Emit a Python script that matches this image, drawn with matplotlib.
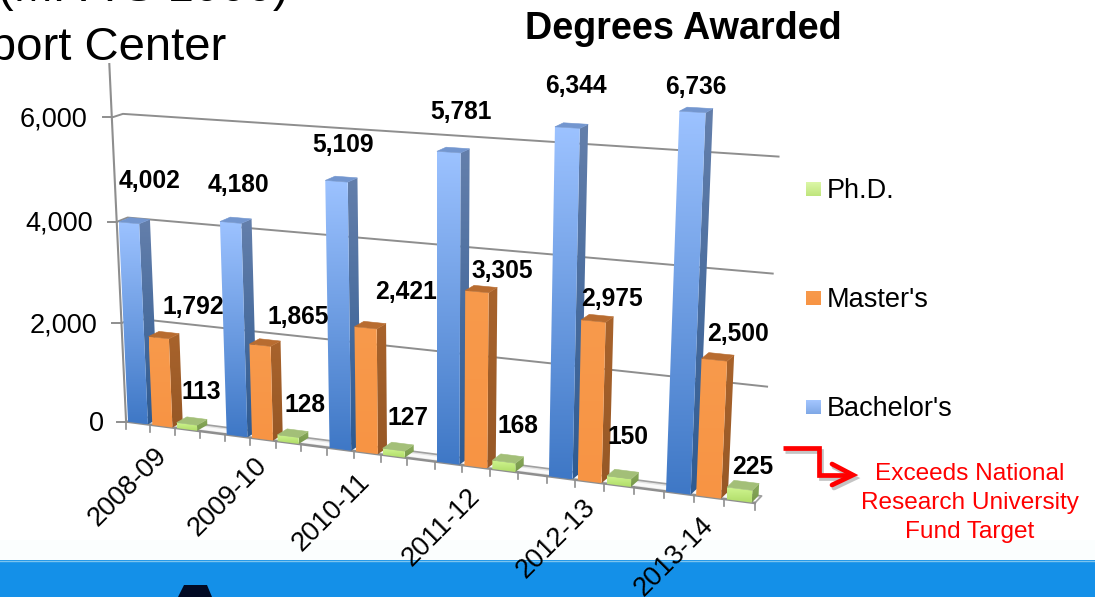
"""
Degrees awarded, slide crop with a hand-projected 3D column chart.
"""

import matplotlib

matplotlib.use("Agg")
import matplotlib.pyplot as plt
import numpy as np
from matplotlib.colors import to_rgb
from matplotlib.patches import Polygon, Rectangle

plt.rcParams["font.family"] = ["Liberation Sans", "DejaVu Sans"]

categories = ["2008-09", "2009-10", "2010-11", "2011-12", "2012-13", "2013-14"]
bachelors = [4002, 4180, 5109, 5781, 6344, 6736]
masters = [1792, 1865, 2421, 3305, 2975, 2500]
phds = [113, 128, 127, 168, 150, 225]
y_ticks = [0, 2000, 4000, 6000]

bachelor_label_xy = [(150, 181), (238, 185), (343, 145), (461, 112), (576, 86), (696, 87)]
master_label_xy = [(193, 307), (298, 317), (406, 292), (502, 271), (612, 299), (738, 334)]
phd_label_xy = [(201, 392), (305, 405), (408, 418), (518, 426), (628, 437), (753, 467)]
tick_label_xy = [(128, 487), (228, 497), (331, 512), (441, 527), (556, 539), (674, 557)]

# (slot, value, depth) -> pixel pairs measured on the chart frame.
# One category takes 4 slots: three bars and a gap.
frame_points = [
    ((0, 0, 0), (126, 421)), ((0, 4000, 0), (118, 221)), ((0, 6000, 0), (112, 117)),
    ((0, 0, 1), (137, 417)), ((0, 4000, 1), (128, 217)), ((0, 6000, 1), (122, 114)),
    ((23, 0, 0), (755, 503)), ((23, 0, 1), (762, 495)), ((23, 2000, 1), (767, 387)),
    ((23, 4000, 1), (773, 273)), ((23, 6000, 1), (778, 157)),
    ((4, 0, 0), (224, 434)), ((8, 0, 0), (327, 447)), ((12, 0, 0), (435, 462)),
    ((16, 0, 0), (547, 477)), ((20, 0, 0), (663, 491)),
    ((20, 6736, 0), (677, 111)), ((16, 6344, 0), (553, 126)),
    ((8, 5109, 0), (323, 182)), ((4, 4180, 0), (217, 222)),
]


def fit_camera(points):
    rows = []
    for (x, v, z), (u, w) in points:
        v = v / 1000
        rows.append([x, v, z, 1, 0, 0, 0, 0, -u * x, -u * v, -u * z, -u])
        rows.append([0, 0, 0, 0, x, v, z, 1, -w * x, -w * v, -w * z, -w])
    _, _, vt = np.linalg.svd(np.array(rows, dtype=float))
    return vt[-1].reshape(3, 4)


camera = fit_camera(frame_points)


def project(x, v, z=0):
    p = camera @ np.array([x, v / 1000, z, 1.0])
    return p[0] / p[2], p[1] / p[2]


def gradient_face(ax, pts, top, bottom, zorder):
    # vertical gradient image clipped to the face outline
    xs, ys = zip(*pts)
    shades = np.linspace(0, 1, 64)[:, None, None]
    img = (1 - shades) * np.array(to_rgb(top)) + shades * np.array(to_rgb(bottom))
    im = ax.imshow(img, extent=(min(xs), max(xs), max(ys), min(ys)), aspect="auto",
                   zorder=zorder, interpolation="bilinear")
    outline = Polygon(pts, closed=True, transform=ax.transData, fc="none", ec="none")
    ax.add_patch(outline)
    im.set_clip_path(outline)


def draw_bar(ax, slot, value, style, zorder):
    x0, x1 = slot + 0.08, slot + 0.9
    back = 1.0
    front = [project(x0, value), project(x1, value), project(x1, 0), project(x0, 0)]
    side = [project(x1, value), project(x1, value, back), project(x1, 0, back), project(x1, 0)]
    top = [project(x0, value), project(x1, value), project(x1, value, back), project(x0, value, back)]
    gradient_face(ax, side, style["side_top"], style["side_bottom"], zorder)
    gradient_face(ax, front, style["front_top"], style["front_bottom"], zorder + 0.1)
    ax.add_patch(Polygon(top, closed=True, fc=style["top"], ec=style["top"], lw=0.4, zorder=zorder + 0.2))


blue = dict(front_top="#9cc2ff", front_bottom="#3f78c6", side_top="#647fab", side_bottom="#2f5b92", top="#7396cf")
orange = dict(front_top="#f89a4c", front_bottom="#f79444", side_top="#a8632c", side_bottom="#975826", top="#b86c30")
green = dict(front_top="#cff590", front_bottom="#b0dc68", side_top="#8aaa5c", side_bottom="#76984a", top="#a3bf78")

fig = plt.figure(figsize=(10.95, 5.97), dpi=100)
ax = fig.add_axes([0, 0, 1, 1])
ax.axis("off")

grid_color = "#8e8e8e"

# wall and gridlines
for tick in y_ticks[1:]:
    xs, ys = zip(project(0, tick), project(0, tick, 1), project(23, tick, 1))
    ax.plot(xs, ys, color=grid_color, lw=1.4, zorder=1)
for tick in y_ticks:
    x, y = project(0, tick)
    ax.plot([x - 9, x], [y, y], color=grid_color, lw=1.4, zorder=1)
    ax.text(x - 24 if tick else 104, y + 2, f"{tick:,}", fontsize=19.5, ha="right", va="center", color="black")

xs, ys = zip(project(0, 7000), project(0, 0))
ax.plot(xs, ys, color=grid_color, lw=1.5, zorder=1)

# floor
floor = [project(0, 0), project(23, 0), project(23, 0, 1), project(0, 0, 1)]
ax.add_patch(Polygon(floor, closed=True, fc="#e4e4e4", ec="none", zorder=1))
inner = [project(0, 0, 0.25), project(23, 0, 0.25), project(23, 0, 0.7), project(0, 0, 0.7)]
ax.add_patch(Polygon(inner, closed=True, fc="#fafafa", ec="none", zorder=1.1))
xs, ys = zip(project(0, 0, 1), project(23, 0, 1), project(23, 0))
ax.plot(xs, ys, color="#a0a0a0", lw=1.2, zorder=1.2)
xs, ys = zip(project(0, 0), project(23, 0))
ax.plot(xs, ys, color=grid_color, lw=1.8, zorder=1.3)
for slot in range(24):
    x, y = project(min(slot, 23), 0)
    ax.plot([x, x], [y, y + 7], color=grid_color, lw=1.2, zorder=1.3)

# bars, left to right so each one covers the side of the previous
for i in range(len(categories)):
    draw_bar(ax, 4 * i, bachelors[i], blue, 2 + i)
    draw_bar(ax, 4 * i + 1, masters[i], orange, 2.3 + i)
    draw_bar(ax, 4 * i + 2, phds[i], green, 2.6 + i)

# footer band and logo stub, tick labels sit on top of it
ax.add_patch(Rectangle((0, 540), 1095, 20, fc="#fbfefe", ec="none", zorder=0.5))
ax.add_patch(Rectangle((0, 560), 1095, 37, fc="#1490e8", ec="none", zorder=9))
ax.plot([0, 1095], [560.5, 560.5], color="#7cc4ee", lw=1, zorder=9.1)
ax.add_patch(Polygon([(184, 585), (207, 585), (212, 597), (178, 597)], closed=True, fc="#020a24", ec="none", zorder=9.2))

for series, spots in [(bachelors, bachelor_label_xy), (masters, master_label_xy), (phds, phd_label_xy)]:
    for value, (x, y) in zip(series, spots):
        ax.text(x, y, f"{value:,}", fontsize=17.7, fontweight="bold", ha="center", va="center", color="black", zorder=12)

for label, (x, y) in zip(categories, tick_label_xy):
    ax.text(x, y, label, fontsize=19.5, rotation=45, ha="center", va="center", color="black", zorder=12)

# legend
legend_rows = [
    ("Ph.D.", 189, "#dcf7a8", "#bfe57c"),
    ("Master's", 298, "#f89a4c", "#f79444"),
    ("Bachelor's", 407, "#a4c6ff", "#7fa8e6"),
]
for name, y, c_top, c_bottom in legend_rows:
    square = [(806, y - 7), (821, y - 7), (821, y + 7), (806, y + 7)]
    gradient_face(ax, square, c_top, c_bottom, 5)
    ax.text(827, y + 2, name, fontsize=19.5, ha="left", va="center", color="black")

# slide text around the chart
ax.text(683, 29, "Degrees Awarded", fontsize=27.2, fontweight="bold", ha="center", va="center", color="black")
ax.text(226, 60, "Support Center", fontsize=34, ha="right", va="baseline", color="black")
ax.text(289, 1, "(MPA S 1000)", fontsize=34, ha="right", va="baseline", color="black")

# red callout
for dx, dy, col, width in [(2, 3, "#c4c4c4", 3.4), (0, 0, "#ff0000", 3.4)]:
    ax.plot(np.array([783, 819, 819, 851]) + dx, np.array([448, 448, 475, 475]) + dy,
            color=col, lw=width, solid_joinstyle="miter", solid_capstyle="butt", zorder=7)
    ax.plot(np.array([832, 853, 832]) + dx, np.array([464, 475, 485]) + dy,
            color=col, lw=width, solid_joinstyle="miter", solid_capstyle="round", zorder=7)
for text, y in [("Exceeds National", 474), ("Research University", 503), ("Fund Target", 532)]:
    ax.text(970, y, text, fontsize=17.6, ha="center", va="center", color="#ff0000")

ax.set_xlim(0, 1095)
ax.set_ylim(597, 0)
fig.savefig("out.png", dpi=100)
plt.close(fig)
